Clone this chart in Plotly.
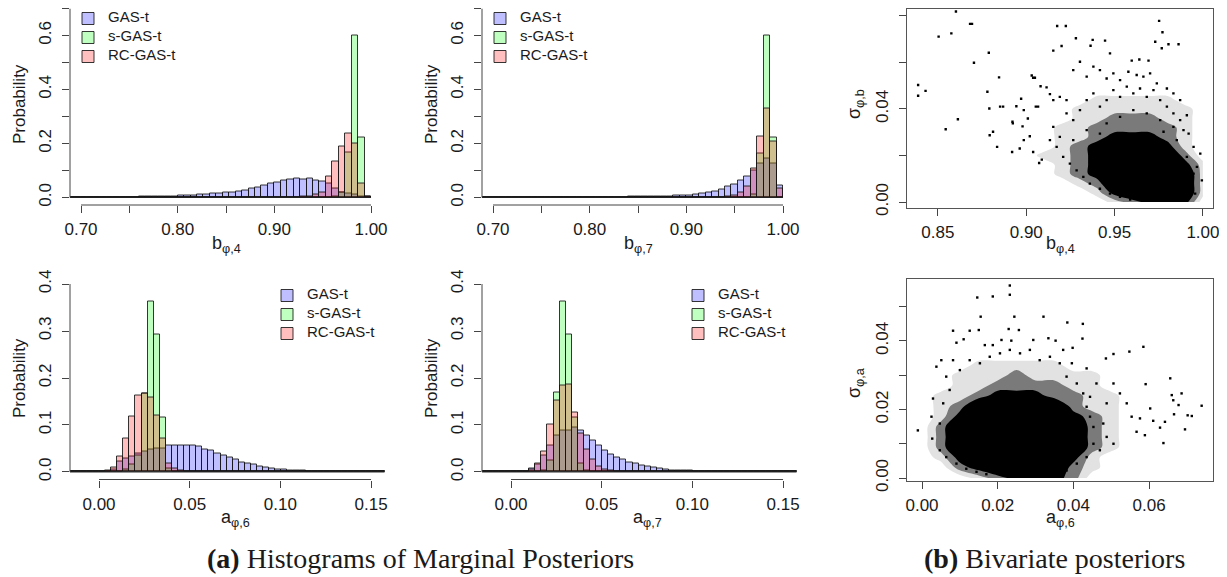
import plotly.graph_objects as go

# The page body has an 8 px default margin, so the figure is drawn 8 px in
# from the top-left corner of the 1227x577 window.
WIN_W, WIN_H = 1227, 577
OFF = 8
FW, FH = WIN_W - OFF, WIN_H - OFF

# ---------------- data ----------------
SERIES = ["GAS-t", "s-GAS-t", "RC-GAS-t"]
FILLS = ["rgba(0,0,255,0.25)", "rgba(0,255,0,0.25)", "rgba(255,0,0,0.25)"]

# histogram breaks for the b-parameters (47 bins, last one ending at 1.00)
B_BREAK_START = 0.68667
B_BREAK_WIDTH = 0.0066667

b4_gas = [0, 0, 0.0002, 0.0003, 0.0004, 0.0005, 0.0006, 0.0008, 0.001, 0.0012,
          0.0015, 0.002, 0.0025, 0.003, 0.0035, 0.004, 0.005, 0.006, 0.007, 0.008,
          0.010, 0.011, 0.013, 0.015, 0.017, 0.019, 0.022, 0.027, 0.034, 0.038,
          0.043, 0.050, 0.055, 0.061, 0.066, 0.071, 0.068, 0.070, 0.063, 0.060,
          0.050, 0.032, 0.020, 0.014, 0.010, 0.005, 0.003]
b4_sgas = [0.0] * 41 + [0.003, 0.020, 0.165, 0.600, 0.221, 0.0]
b4_rcgas = [0.0] * 36 + [0.002, 0.005, 0.010, 0.020, 0.076, 0.132, 0.188, 0.237,
                         0.201, 0.051, 0.005]

b7_gas = [0, 0, 0, 0, 0, 0, 0.0001, 0.0001, 0.0001, 0.0002, 0.0002, 0.0002,
          0.0003, 0.0003, 0.0003, 0.0003,
          0.0004, 0.0005, 0.0006, 0.0008, 0.001, 0.0012, 0.0014, 0.0017, 0.002,
          0.0025, 0.003, 0.0035, 0.004, 0.005, 0.006, 0.0075, 0.009, 0.011, 0.015,
          0.017, 0.022, 0.029, 0.039, 0.048, 0.062, 0.078, 0.098, 0.125, 0.144,
          0.125, 0.045]
b7_sgas = [0.0] * 42 + [0.010, 0.163, 0.600, 0.221, 0.0]
b7_rcgas = [0.0] * 38 + [0.003, 0.008, 0.020, 0.042, 0.107, 0.227, 0.329, 0.206, 0.033]

# histogram breaks for the a-parameters (52 bins)
A_BREAK_START = -0.01675
A_BREAK_WIDTH = 0.00335

a6_gas = [0, 0, 0, 0,
          0.0005, 0.001, 0.002, 0.005, 0.022, 0.029, 0.033, 0.040, 0.043, 0.048,
          0.050, 0.051, 0.057, 0.057, 0.057, 0.057, 0.056, 0.054, 0.048, 0.045,
          0.040, 0.035, 0.031, 0.026, 0.021, 0.018, 0.015, 0.012, 0.010, 0.008,
          0.006, 0.005, 0.004, 0.003, 0.0025, 0.002, 0.0015, 0.001, 0.0008, 0.0006,
          0.0004, 0.0003, 0.0002,
          0, 0, 0, 0, 0]
a6_sgas = [0.0] * 8 + [0.002, 0.006, 0.015, 0.035, 0.168, 0.363, 0.293, 0.117,
                       0.008, 0.001] + [0.0] * 34
a6_rcgas = [0.0] * 4 + [0.0005, 0.001, 0.004, 0.009, 0.034, 0.071, 0.119, 0.163,
                        0.168, 0.159, 0.121, 0.071, 0.018, 0.008, 0.004, 0.002,
                        0.001] + [0.0] * 31

a7_gas = [0, 0, 0, 0, 0,
          0.001, 0.002, 0.002, 0.008, 0.015, 0.035, 0.056, 0.077, 0.088, 0.089,
          0.095, 0.089, 0.077, 0.067, 0.056, 0.045, 0.038, 0.031, 0.026, 0.021,
          0.017, 0.014, 0.011, 0.009, 0.007, 0.005, 0.004, 0.0035, 0.003, 0.0025,
          0.002, 0.0015, 0.001, 0.0008, 0.0006, 0.0004, 0.0003, 0.0002,
          0, 0, 0, 0, 0, 0, 0, 0, 0]
a7_sgas = [0.0] * 10 + [0.003, 0.025, 0.169, 0.363, 0.293, 0.116, 0.018,
                        0.003] + [0.0] * 34
a7_rcgas = [0.0] * 6 + [0.0005, 0.001, 0.006, 0.018, 0.044, 0.101, 0.153, 0.185,
                        0.187, 0.126, 0.081, 0.047, 0.026, 0.011, 0.006, 0.003,
                        0.001] + [0.0] * 29

# tick values / labels
b_ticks = [0.70, 0.75, 0.80, 0.85, 0.90, 0.95, 1.00]
b_ticklabels = ["0.70", "", "0.80", "", "0.90", "", "1.00"]
pb_ticks = [0.0, 0.1, 0.2, 0.3, 0.4, 0.5, 0.6, 0.7]
pb_ticklabels = ["0.0", "", "0.2", "", "0.4", "", "0.6", ""]
a_ticks = [0.00, 0.05, 0.10, 0.15]
a_ticklabels = ["0.00", "0.05", "0.10", "0.15"]
pa_ticks = [0.0, 0.1, 0.2, 0.3, 0.4]
pa_ticklabels = ["0.0", "0.1", "0.2", "0.3", "0.4"]
sb_xticks = [0.85, 0.90, 0.95, 1.00]
sb_xticklabels = ["0.85", "0.90", "0.95", "1.00"]
sb_yticks = [0.00, 0.02, 0.04, 0.06, 0.08]
sb_yticklabels = ["0.00", "", "0.04", "", "0.08"]
sa_xticks = [0.00, 0.02, 0.04, 0.06]
sa_xticklabels = ["0.00", "0.02", "0.04", "0.06"]
sa_yticks = [0.00, 0.01, 0.02, 0.03, 0.04, 0.05]
sa_yticklabels = ["0.00", "", "0.02", "", "0.04", ""]

# bivariate posterior (b_phi,4 , sigma_phi,b): visual density level 0-4
sb_grid_x = [0.89, 0.90, 0.91, 0.92, 0.93, 0.94, 0.95, 0.96, 0.97, 0.98, 0.99, 1.00]
sb_grid_y = [0.000, 0.004, 0.008, 0.012, 0.016, 0.020, 0.024, 0.028, 0.032,
             0.036, 0.040, 0.044, 0.048]
sb_density = [
    [0, 0, 0, 0, 0, 0, 1, 2, 3, 3, 3, 0],
    [0, 0, 0, 0, 0, 1, 3, 4, 4, 4, 4, 1],
    [0, 0, 0, 0, 1, 2, 4, 4, 4, 4, 4, 1],
    [0, 0, 0, 1, 2, 3, 4, 4, 4, 4, 4, 1],
    [0, 0, 0, 1, 2, 3, 4, 4, 4, 4, 3, 1],
    [0, 0, 1, 1, 2, 3, 4, 4, 4, 4, 2, 0],
    [0, 0, 0, 1, 2, 3, 4, 4, 4, 3, 1, 0],
    [0, 0, 0, 1, 1, 2, 3, 3, 3, 2, 1, 0],
    [0, 0, 0, 1, 1, 2, 2, 2, 2, 2, 1, 0],
    [0, 0, 0, 0, 1, 1, 2, 2, 2, 1, 1, 0],
    [0, 0, 0, 0, 1, 1, 1, 1, 1, 1, 1, 0],
    [0, 0, 0, 0, 0, 1, 1, 1, 1, 1, 0, 0],
    [0, 0, 0, 0, 0, 0, 0, 0, 0, 0, 0, 0],
]
sb_points = [
    (0.8388, 0.0503), (0.8388, 0.0457), (0.8430, 0.0478), (0.8504, 0.0711), (0.8576, 0.0725),
    (0.8602, 0.0819), (0.8682, 0.0766), (0.8693, 0.0766), (0.8704, 0.0599), (0.8544, 0.0313),
    (0.8613, 0.0356), (0.8788, 0.0642), (0.8791, 0.0402), (0.8780, 0.0474), (0.8793, 0.0287),
    (0.8812, 0.0302), (0.8835, 0.0237), (0.8846, 0.0536), (0.8852, 0.0410), (0.8869, 0.0410),
    (0.8920, 0.0215), (0.8922, 0.0345), (0.8924, 0.0338), (0.8944, 0.0412), (0.8963, 0.0230),
    (0.8971, 0.0444), (0.8979, 0.0325), (0.8986, 0.0395), (0.8986, 0.0266), (0.9009, 0.0359),
    (0.9020, 0.0283), (0.9031, 0.0544), (0.9039, 0.0534), (0.9039, 0.0215), (0.9049, 0.0534),
    (0.9054, 0.0410), (0.9067, 0.0410), (0.9073, 0.0168), (0.9081, 0.0498), (0.9088, 0.0182),
    (0.9153, 0.0651), (0.9175, 0.0757), (0.9200, 0.0671), (0.9224, 0.0757), (0.9281, 0.0704),
    (0.9364, 0.0672), (0.9376, 0.0697), (0.9446, 0.0694), (0.9474, 0.0639), (0.9597, 0.0608),
    (0.9640, 0.0613), (0.9692, 0.0608), (0.9752, 0.0779), (0.9771, 0.0730), (0.9730, 0.0689),
    (0.9767, 0.0661), (0.9805, 0.0678), (0.9862, 0.0678), (0.9304, 0.0603), (0.9266, 0.0567),
    (0.9115, 0.0493), (0.9134, 0.0464), (0.9153, 0.0438), (0.9190, 0.0452), (0.9228, 0.0438),
    (0.9342, 0.0539), (0.9380, 0.0582), (0.9417, 0.0567), (0.9455, 0.0531), (0.9493, 0.0553),
    (0.9531, 0.0524), (0.9578, 0.0560), (0.9625, 0.0546), (0.9663, 0.0539), (0.9701, 0.0553),
    (0.9739, 0.0510), (0.9796, 0.0488), (0.9833, 0.0467), (0.9871, 0.0438), (0.9909, 0.0373),
    (0.9919, 0.0294), (0.9947, 0.0237), (0.9985, 0.0208), (0.9994, 0.0093), (0.9966, 0.0151),
    (0.9228, 0.0381), (0.9266, 0.0352), (0.9304, 0.0395), (0.9342, 0.0438), (0.9380, 0.0467),
    (0.9417, 0.0410), (0.9455, 0.0438), (0.9493, 0.0481), (0.9531, 0.0452), (0.9569, 0.0496),
    (0.9606, 0.0467), (0.9644, 0.0488), (0.9682, 0.0452), (0.9720, 0.0481), (0.9758, 0.0438),
    (0.9796, 0.0410), (0.9833, 0.0381), (0.9871, 0.0352), (0.9890, 0.0309), (0.9153, 0.0323),
    (0.9190, 0.0280), (0.9134, 0.0266), (0.9172, 0.0237), (0.9209, 0.0194), (0.9247, 0.0165),
    (0.9285, 0.0136), (0.9323, 0.0108), (0.9360, 0.0079), (0.9417, 0.0057), (0.9474, 0.0036),
    (0.9531, 0.0022), (0.9588, 0.0011), (0.9455, 0.0338), (0.9531, 0.0366), (0.9606, 0.0395),
    (0.9682, 0.0381), (0.9758, 0.0352), (0.9833, 0.0323), (0.9266, 0.0266), (0.9342, 0.0309),
    (0.9417, 0.0294), (0.9777, 0.0302), (0.9852, 0.0266), (0.9909, 0.0194), (0.9947, 0.0122),
    (0.9956, 0.0036),
]

# bivariate posterior (a_phi,6 , sigma_phi,a)
sa_grid_x = [0.000, 0.005, 0.010, 0.015, 0.020, 0.025, 0.030, 0.035, 0.040, 0.045, 0.050, 0.055]
sa_grid_y = [0.000, 0.003, 0.006, 0.009, 0.012, 0.015, 0.018, 0.021, 0.024, 0.027,
             0.030, 0.033, 0.036]
sa_density = [
    [0, 0, 0, 1, 2, 3, 3, 3, 2, 0, 0, 0],
    [0, 0, 2, 3, 4, 4, 4, 4, 2, 1, 0, 0],
    [0, 1, 3, 4, 4, 4, 4, 4, 3, 1, 0, 0],
    [0, 2, 4, 4, 4, 4, 4, 4, 4, 2, 1, 0],
    [0, 2, 4, 4, 4, 4, 4, 4, 4, 2, 1, 0],
    [0, 2, 4, 4, 4, 4, 4, 4, 4, 2, 1, 0],
    [0, 1, 3, 4, 4, 4, 4, 4, 3, 2, 1, 0],
    [0, 1, 2, 4, 4, 4, 4, 4, 2, 1, 1, 0],
    [0, 1, 1, 2, 3, 3, 3, 2, 2, 1, 1, 0],
    [0, 0, 1, 1, 2, 2, 2, 2, 1, 1, 0, 0],
    [0, 0, 1, 1, 1, 2, 1, 1, 1, 1, 0, 0],
    [0, 0, 0, 1, 1, 1, 1, 1, 0, 0, 0, 0],
    [0, 0, 0, 0, 0, 0, 0, 0, 0, 0, 0, 0],
]
sa_points = [
    (-0.0011, 0.0139), (0.0146, 0.0527), (0.0187, 0.0530), (0.0232, 0.0562), (0.0232, 0.0535),
    (0.0155, 0.0471), (0.0244, 0.0471), (0.0321, 0.0471), (0.0384, 0.0454), (0.0425, 0.0450),
    (0.0424, 0.0407), (0.0082, 0.0430), (0.0126, 0.0430), (0.0150, 0.0432), (0.0229, 0.0435),
    (0.0256, 0.0432), (0.0091, 0.0395), (0.0110, 0.0405), (0.0166, 0.0388), (0.0187, 0.0388),
    (0.0210, 0.0403), (0.0236, 0.0401), (0.0294, 0.0403), (0.0334, 0.0408), (0.0353, 0.0401),
    (0.0398, 0.0380), (0.0373, 0.0374), (0.0396, 0.0335), (0.0435, 0.0320), (0.0486, 0.0349),
    (0.0506, 0.0362), (0.0548, 0.0369), (0.0585, 0.0383), (0.0656, 0.0291), (0.0591, 0.0274),
    (0.0686, 0.0247), (0.0660, 0.0242), (0.0664, 0.0227), (0.0678, 0.0213), (0.0739, 0.0211),
    (0.0702, 0.0183), (0.0713, 0.0181), (0.0695, 0.0142), (0.0666, 0.0186), (0.0642, 0.0164),
    (0.0629, 0.0147), (0.0638, 0.0102), (0.0611, 0.0167), (0.0603, 0.0203), (0.0576, 0.0174),
    (0.0589, 0.0125), (0.0567, 0.0135), (0.0554, 0.0179), (0.0541, 0.0218), (0.0523, 0.0247),
    (0.0506, 0.0276), (0.0488, 0.0218), (0.0479, 0.0159), (0.0488, 0.0120), (0.0506, 0.0100),
    (0.0470, 0.0081), (0.0453, 0.0100), (0.0461, 0.0276), (0.0444, 0.0237), (0.0029, 0.0232),
    (0.0025, 0.0179), (0.0027, 0.0115), (0.0047, 0.0081), (0.0051, 0.0344), (0.0038, 0.0325),
    (0.0064, 0.0296), (0.0082, 0.0344), (0.0100, 0.0315), (0.0126, 0.0344), (0.0153, 0.0335),
    (0.0179, 0.0354), (0.0206, 0.0364), (0.0232, 0.0374), (0.0259, 0.0364), (0.0285, 0.0374),
    (0.0311, 0.0344), (0.0338, 0.0354), (0.0364, 0.0335), (0.0382, 0.0296), (0.0409, 0.0276),
    (0.0426, 0.0247), (0.0435, 0.0208), (0.0444, 0.0179), (0.0453, 0.0149), (0.0435, 0.0061),
    (0.0409, 0.0042), (0.0382, 0.0022), (0.0073, 0.0257), (0.0056, 0.0218), (0.0047, 0.0159),
    (0.0064, 0.0061), (0.0091, 0.0042), (0.0117, 0.0027), (0.0144, 0.0018), (0.0170, 0.0011),
    (0.0364, 0.0011),
]

# ---------------- layout helpers ----------------
TXT = "#1a1a1a"
AX = "#444444"
SANS = "Liberation Sans, Arial, sans-serif"
SERIF = "Liberation Serif, Times New Roman, serif"


def px_x(p):
    """window pixel -> paper x"""
    return (p - OFF) / FW


def px_y(p):
    """window pixel -> paper y"""
    return 1 - (p - OFF) / FH


fig = go.Figure()

hist_panels = [
    ("", "legend", (b4_gas, b4_sgas, b4_rcgas), B_BREAK_START, B_BREAK_WIDTH),
    ("2", "legend2", (b7_gas, b7_sgas, b7_rcgas), B_BREAK_START, B_BREAK_WIDTH),
    ("3", "legend3", (a6_gas, a6_sgas, a6_rcgas), A_BREAK_START, A_BREAK_WIDTH),
    ("4", "legend4", (a7_gas, a7_sgas, a7_rcgas), A_BREAK_START, A_BREAK_WIDTH),
]

shapes = []
for suf, leg, series, start, width in hist_panels:
    n = len(series[0])
    centers = [start + (i + 0.5) * width for i in range(n)]
    for name, vals, col in zip(SERIES, series, FILLS):
        fig.add_trace(go.Bar(
            x=centers, y=vals, width=width,
            name='<span style="font-size:15px">%s</span>' % name,
            marker=dict(color=col, line=dict(color="rgba(20,20,20,0.85)", width=1)),
            xaxis="x" + suf, yaxis="y" + suf, legend=leg, hoverinfo="skip",
        ))
    shapes.append(dict(type="line", xref="x" + suf, yref="y" + suf,
                       x0=start, x1=start + n * width, y0=0, y1=0,
                       line=dict(color="#222222", width=1), layer="above"))

# bivariate panels: filled density regions + sparse outlying draws
for suf, gx, gy, dens, pts in [("5", sb_grid_x, sb_grid_y, sb_density, sb_points),
                               ("6", sa_grid_x, sa_grid_y, sa_density, sa_points)]:
    for lvl, col in [(0.6, "#e2e2e2"), (1.5, "#7a7a7a"), (2.5, "#000000")]:
        fig.add_trace(go.Contour(
            x=gx, y=gy, z=dens, xaxis="x" + suf, yaxis="y" + suf,
            contours=dict(type="constraint", operation="<", value=lvl),
            fillcolor=col, line=dict(width=0, smoothing=1.0, color=col),
            showscale=False, showlegend=False, hoverinfo="skip",
        ))
    fig.add_trace(go.Scatter(
        x=[p[0] for p in pts], y=[p[1] for p in pts], mode="markers",
        marker=dict(color="black", size=2.4, symbol="square"),
        xaxis="x" + suf, yaxis="y" + suf, showlegend=False, hoverinfo="skip",
    ))

tickfont = dict(family=SANS, size=17, color=TXT)


def hist_axes(xdom, ydom, xr, yr, xt, xtl, yt, ytl, suf):
    xa = dict(domain=[px_x(xdom[0]), px_x(xdom[1])], range=list(xr),
              tickvals=xt, ticktext=xtl, ticks="outside", ticklen=7, tickcolor=AX,
              showline=False, showgrid=False, zeroline=False, tickfont=tickfont,
              anchor="y" + suf, ticklabelstandoff=2)
    ya = dict(domain=[px_y(ydom[1]), px_y(ydom[0])], range=list(yr),
              tickvals=yt, ticktext=ytl, ticks="outside", ticklen=7, tickcolor=AX,
              showline=False, showgrid=False, zeroline=False, tickfont=tickfont,
              tickangle=-90, anchor="x" + suf, ticklabelstandoff=4)
    shapes.append(dict(type="line", xref="x" + suf, yref="y" + suf + " domain",
                       x0=xt[0], x1=xt[-1], y0=0, y1=0, line=dict(color=AX, width=1)))
    shapes.append(dict(type="line", xref="x" + suf + " domain", yref="y" + suf,
                       x0=0, x1=0, y0=yt[0], y1=yt[-1], line=dict(color=AX, width=1)))
    return xa, ya


def box_axes(xdom, ydom, xr, yr, xt, xtl, yt, ytl, suf):
    xa = dict(domain=[px_x(xdom[0]), px_x(xdom[1])], range=list(xr),
              tickvals=xt, ticktext=xtl, ticks="outside", ticklen=7, tickcolor=AX,
              showline=True, linecolor="#555555", linewidth=1, mirror=True,
              showgrid=False, zeroline=False, tickfont=tickfont, anchor="y" + suf,
              ticklabelstandoff=2)
    ya = dict(domain=[px_y(ydom[1]), px_y(ydom[0])], range=list(yr),
              tickvals=yt, ticktext=ytl, ticks="outside", ticklen=7, tickcolor=AX,
              showline=True, linecolor="#555555", linewidth=1, mirror=True,
              showgrid=False, zeroline=False, tickfont=tickfont, tickangle=-90,
              anchor="x" + suf, ticklabelstandoff=4)
    return xa, ya


axes = {}
axes["xaxis"], axes["yaxis"] = hist_axes((70, 383), (8.5, 205), (0.6886, 1.0124), (-0.028, 0.7),
                                         b_ticks, b_ticklabels, pb_ticks, pb_ticklabels, "")
axes["xaxis2"], axes["yaxis2"] = hist_axes((482, 795), (8.5, 205), (0.6886, 1.0124), (-0.028, 0.7),
                                           b_ticks, b_ticklabels, pb_ticks, pb_ticklabels, "2")
axes["xaxis3"], axes["yaxis3"] = hist_axes((70, 389), (276.5, 479.5), (-0.016, 0.1599), (-0.016, 0.416),
                                           a_ticks, a_ticklabels, pa_ticks, pa_ticklabels, "3")
axes["xaxis4"], axes["yaxis4"] = hist_axes((482, 801), (276.5, 479.5), (-0.016, 0.1599), (-0.016, 0.416),
                                           a_ticks, a_ticklabels, pa_ticks, pa_ticklabels, "4")
axes["xaxis5"], axes["yaxis5"] = box_axes((907, 1213), (8.5, 208), (0.8325, 1.0057), (-0.00258, 0.0832),
                                          sb_xticks, sb_xticklabels, sb_yticks, sb_yticklabels, "5")
axes["xaxis6"], axes["yaxis6"] = box_axes((907, 1213), (279, 481), (-0.00397, 0.0769), (-0.000876, 0.0581),
                                          sa_xticks, sa_xticklabels, sa_yticks, sa_yticklabels, "6")


def legend_at(xp, yp):
    return dict(x=px_x(xp), y=px_y(yp), xanchor="left", yanchor="top",
                bgcolor="rgba(0,0,0,0)", borderwidth=0,
                font=dict(family=SANS, size=10, color=TXT),
                itemwidth=30, tracegroupgap=0, traceorder="normal")


annotations = []


def label(text, xp, yp, angle=0, size=18, family=SANS):
    annotations.append(dict(text=text, x=px_x(xp), y=px_y(yp), xref="paper", yref="paper",
                            showarrow=False, textangle=angle, xanchor="center",
                            yanchor="middle", font=dict(family=family, size=size, color=TXT)))


label("Probability", 19, 104, angle=-90, size=17)
label("Probability", 431, 104, angle=-90, size=17)
label("Probability", 19, 378, angle=-90, size=17)
label("Probability", 431, 378, angle=-90, size=17)
label("b<sub>φ,4</sub>", 226, 244)
label("b<sub>φ,7</sub>", 638, 244)
label("a<sub>φ,6</sub>", 235, 518)
label("a<sub>φ,7</sub>", 647, 518)
label("σ<sub>φ,b</sub>", 855, 104, angle=-90)
label("b<sub>φ,4</sub>", 1060, 244)
label("σ<sub>φ,a</sub>", 855, 383, angle=-90)
label("a<sub>φ,6</sub>", 1060, 518)
label("<b>(a)</b> Histograms of Marginal Posteriors", 420, 558, size=28, family=SERIF)
label("<b>(b)</b> Bivariate posteriors", 1054, 558, size=28, family=SERIF)

fig.update_layout(
    width=FW, height=FH, margin=dict(l=0, r=0, t=0, b=0, autoexpand=False),
    paper_bgcolor="white", plot_bgcolor="white",
    barmode="overlay", bargap=0, showlegend=True,
    legend=legend_at(68, 4), legend2=legend_at(480, 4),
    legend3=legend_at(267, 281), legend4=legend_at(678, 281),
    shapes=shapes, annotations=annotations,
    **axes,
)

fig.write_html("out.html")
